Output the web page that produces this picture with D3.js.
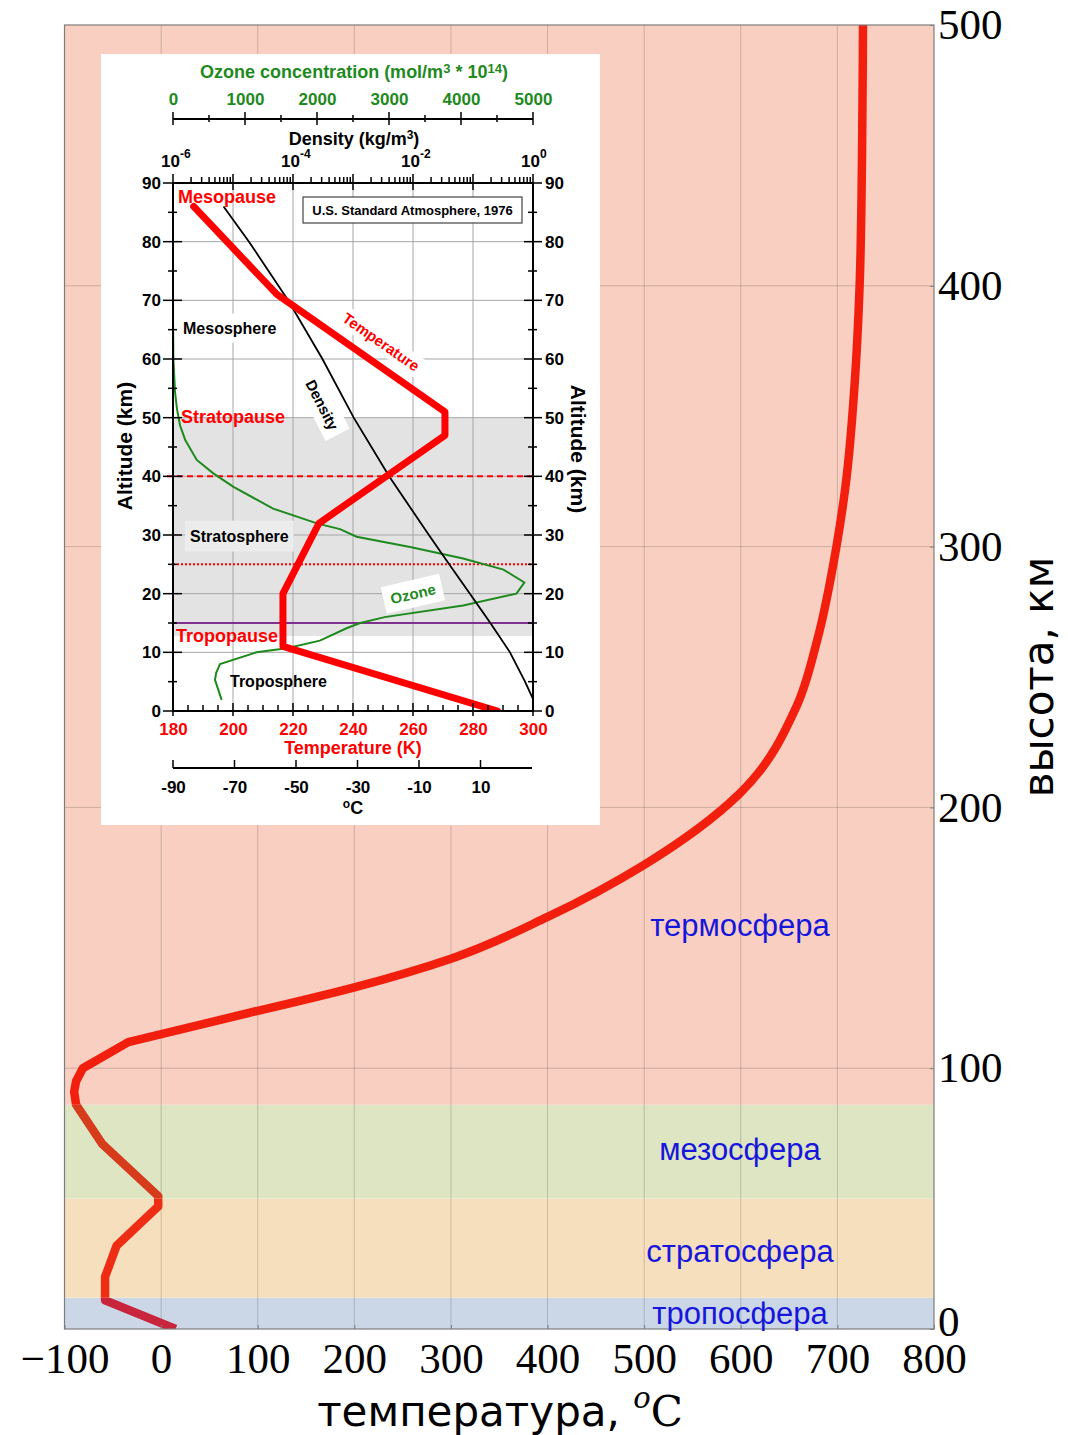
<!DOCTYPE html>
<html lang="ru">
<head>
<meta charset="utf-8">
<title>Температура атмосферы</title>
<script src="https://cdn.jsdelivr.net/npm/d3@7/dist/d3.min.js"></script>
<style>
  html, body { margin: 0; padding: 0; background: #fff; }
  svg { display: block; }
</style>
</head>
<body>
<svg id="chart" width="1068" height="1435"></svg>
<script>
// ---------- Main profile: temperature (°C) against altitude (km), 0–500 km ----------
const profileAlt  = [0, 11, 20, 32, 47, 51, 71, 86, 91, 95, 100, 110, 122, 131, 142, 158, 178, 205, 239, 264, 300, 322, 369, 400, 450, 500];
const profileTemp = [15, -58, -58, -46, -3, -3, -61, -88, -90, -88, -81, -34, 100, 200, 300, 400, 500, 598, 658, 679, 699, 708, 719, 723, 725.5, 726.5];

// Atmospheric layers (km)
const layerNames  = ["тропосфера", "стратосфера", "мезосфера", "термосфера"];
const layerBottom = [0, 12, 50, 86];
const layerTop    = [12, 50, 86, 500];

const tempTicks = [-100, 0, 100, 200, 300, 400, 500, 600, 700, 800];
const altTicks  = [0, 100, 200, 300, 400, 500];

// ---------- Inset: U.S. Standard Atmosphere, 1976 ----------
const stdAlt   = [0, 11, 20, 32, 47, 51, 71, 86];
const stdTempK = [288.15, 216.65, 216.65, 228.65, 270.65, 270.65, 214.65, 186.87];

const densityAlt = [0, 2, 5, 10, 15, 20, 25, 30, 40, 50, 60, 70, 80, 86];
const densityVal = [1.225, 1.007, 0.7364, 0.4135, 0.1948, 0.08891, 0.04008, 0.01841, 0.003996, 0.001027, 3.097e-4, 8.283e-5, 1.846e-5, 6.958e-6];

const ozoneAlt = [1.9, 5.3, 6.5, 8, 10, 10.7, 12, 14.1, 15, 16, 18, 20, 21.9, 24.1, 26, 27.9, 29.7, 31, 31.9, 34.5, 38.2, 40.5, 42.8, 46.2, 48.7, 51.5, 54.4, 60, 66, 74.3];
const ozoneVal = [676, 583, 600, 653, 1160, 1580, 2040, 2410, 2600, 2940, 4030, 4770, 4880, 4590, 4030, 3310, 2550, 2320, 2020, 1390, 840, 560, 330, 170, 97, 55, 28, 5, 1, 0];

const insetAltTicks   = [0, 10, 20, 30, 40, 50, 60, 70, 80, 90];
const kelvinTicks     = [180, 200, 220, 240, 260, 280, 300];
const celsiusTicks    = [-90, -70, -50, -30, -10, 10];
const ozoneTicks      = [0, 1000, 2000, 3000, 4000, 5000];
const densityDecades  = [-6, -4, -2, 0];

// ======================================================================
const svg = d3.select("#chart");
const defs = svg.append("defs");

// ---------------- main chart ----------------
const x = d3.scaleLinear().domain([-100, 800]).range([64.5, 934]);
const y = d3.scaleLinear().domain([0, 500]).range([1329, 25]);

const layerFill  = ["#cbd7e6", "#f6dfbc", "#dde5c3", "#f8cfc1"];
const layerLine  = ["#c8243c", "#ee2e14", "#d63c1c", "#f21f0e"];
const layerLabelAlt = [6, 30, 69, 155];
const smoothFrom = 122; // above this altitude the profile is drawn as a smooth curve

const layers = layerNames.map((name, i) => ({ name, lo: layerBottom[i], hi: layerTop[i], i }));
const main = svg.append("g");

main.selectAll("rect.layer").data(layers).join("rect")
  .attr("class", "layer")
  .attr("x", x(-100)).attr("width", x(800) - x(-100))
  .attr("y", d => y(d.hi)).attr("height", d => y(d.lo) - y(d.hi))
  .attr("fill", d => layerFill[d.i]);

// grid
main.append("g").selectAll("line").data(tempTicks.slice(1, -1)).join("line")
  .attr("x1", d => x(d)).attr("x2", d => x(d))
  .attr("y1", y(0)).attr("y2", y(500))
  .attr("stroke", "#000").attr("stroke-opacity", 0.17).attr("stroke-width", 1);
main.append("g").selectAll("line").data(altTicks.slice(1, -1)).join("line")
  .attr("y1", d => y(d)).attr("y2", d => y(d))
  .attr("x1", x(-100)).attr("x2", x(800))
  .attr("stroke", "#000").attr("stroke-opacity", 0.17).attr("stroke-width", 1);

// temperature curve, coloured by layer: broken line low down, smooth in the thermosphere
const profile = profileAlt.map((a, i) => ({ a, t: profileTemp[i] }));
const lowPart = profile.filter(d => d.a <= smoothFrom);
const highPart = profile.filter(d => d.a >= smoothFrom);
const lineLow = d3.line().x(d => x(d.t)).y(d => y(d.a));
const lineHigh = d3.line().x(d => x(d.t)).y(d => y(d.a)).curve(d3.curveMonotoneY);
const profilePath = lineLow(lowPart) + lineHigh(highPart).replace(/^M/, "L");

layers.forEach(d => {
  const top = d.i === 3 ? y(500) : y(d.hi);
  const bottom = y(d.lo);
  defs.append("clipPath").attr("id", "layer-clip-" + d.i)
    .append("rect").attr("x", 0).attr("width", 1068).attr("y", top).attr("height", bottom - top);
  main.append("path")
    .attr("d", profilePath)
    .attr("fill", "none")
    .attr("stroke", layerLine[d.i])
    .attr("stroke-width", 8.5)
    .attr("stroke-linejoin", "round")
    .attr("clip-path", `url(#layer-clip-${d.i})`);
});

// frame
main.append("rect")
  .attr("x", x(-100)).attr("y", y(500))
  .attr("width", x(800) - x(-100)).attr("height", y(0) - y(500))
  .attr("fill", "none").attr("stroke", "#7d7d7d").attr("stroke-width", 1.2);

// layer names
main.selectAll("text.layer-name").data(layers).join("text")
  .attr("class", "layer-name")
  .attr("x", 740).attr("y", d => y(layerLabelAlt[d.i]))
  .attr("dy", "0.35em")
  .attr("text-anchor", "middle")
  .attr("font-family", "'Liberation Sans', Arial, sans-serif")
  .attr("font-size", 31)
  .attr("fill", "#1616dc")
  .text(d => d.name);

// axes
const axisFont = "'Liberation Serif', 'Times New Roman', serif";
const xAxis = d3.axisBottom(x).tickValues(tempTicks)
  .tickFormat(d => d < 0 ? "\u2212" + Math.abs(d) : String(d))
  .tickSizeInner(-4).tickSizeOuter(0).tickPadding(13);
const gx = main.append("g").attr("transform", `translate(0,${y(0)})`).call(xAxis);
gx.select(".domain").remove();
gx.selectAll(".tick line").attr("stroke", "#7d7d7d");
gx.selectAll(".tick text").attr("font-family", axisFont).attr("font-size", 43).attr("fill", "#000");

const yAxis = d3.axisRight(y).tickValues(altTicks)
  .tickSizeInner(-4).tickSizeOuter(0).tickPadding(4);
const gy = main.append("g").attr("transform", `translate(${x(800)},0)`).call(yAxis);
gy.select(".domain").remove();
gy.selectAll(".tick line").attr("stroke", "#7d7d7d");
gy.selectAll(".tick text").attr("font-family", axisFont).attr("font-size", 43).attr("fill", "#000");
// the lowest altitude label sits just above the corner label of the temperature axis
gy.selectAll(".tick").filter(d => d === 0).select("text").attr("dy", "0.15em");

// axis titles
const xTitle = main.append("text")
  .attr("x", 500).attr("y", 1426).attr("text-anchor", "middle")
  .attr("font-family", "'DejaVu Sans', sans-serif").attr("font-size", 42).attr("fill", "#000");
xTitle.append("tspan").text("температура, ");
xTitle.append("tspan").attr("font-family", "'DejaVu Serif', serif").attr("font-style", "italic")
  .attr("font-size", 29).attr("dy", -18).text("o");
xTitle.append("tspan").attr("font-family", "'DejaVu Serif', serif")
  .attr("font-size", 42).attr("dy", 18).text("C");

main.append("text")
  .attr("transform", "translate(1053,677) rotate(-90)")
  .attr("text-anchor", "middle")
  .attr("font-family", "'DejaVu Sans', sans-serif").attr("font-size", 42).attr("fill", "#000")
  .text("высота, км");

// ---------------- inset ----------------
const inset = svg.append("g").attr("class", "inset");
inset.append("rect").attr("x", 101).attr("y", 54).attr("width", 499).attr("height", 771).attr("fill", "#fff");

const kx = d3.scaleLinear().domain([180, 300]).range([173, 533]);
const ay = d3.scaleLinear().domain([0, 90]).range([711, 183]);
const dx = d3.scaleLog().domain([1e-6, 1]).range([173, 533]);
const ox = d3.scaleLinear().domain([0, 5000]).range([173, 533]);
const cx = d3.scaleLinear().domain([-90, 10]).range([173, 480.5]);

const boldFont = "'Liberation Sans', Arial, sans-serif";
const green = "#1e8a1e";
const red = "#ff0000";

defs.append("clipPath").attr("id", "inset-plot")
  .append("rect").attr("x", kx(180)).attr("y", ay(90)).attr("width", kx(300) - kx(180)).attr("height", ay(0) - ay(90));

// stratosphere shading
inset.append("rect")
  .attr("x", kx(180)).attr("width", kx(300) - kx(180))
  .attr("y", ay(50)).attr("height", ay(12.8) - ay(50))
  .attr("fill", "#e3e3e3");

// grid
inset.append("g").selectAll("line").data(kelvinTicks.slice(1, -1)).join("line")
  .attr("x1", d => kx(d)).attr("x2", d => kx(d)).attr("y1", ay(0)).attr("y2", ay(90))
  .attr("stroke", "#a6a6a6").attr("stroke-width", 1);
inset.append("g").selectAll("line").data(insetAltTicks.slice(1, -1)).join("line")
  .attr("y1", d => ay(d)).attr("y2", d => ay(d)).attr("x1", kx(180)).attr("x2", kx(300))
  .attr("stroke", "#a6a6a6").attr("stroke-width", 1);

// reference levels
inset.append("line").attr("x1", kx(180) - 6).attr("x2", kx(300)).attr("y1", ay(40)).attr("y2", ay(40))
  .attr("stroke", red).attr("stroke-width", 2).attr("stroke-dasharray", "6,4");
inset.append("line").attr("x1", kx(180)).attr("x2", kx(300)).attr("y1", ay(25)).attr("y2", ay(25))
  .attr("stroke", red).attr("stroke-width", 2).attr("stroke-dasharray", "2,2");
inset.append("line").attr("x1", kx(180)).attr("x2", kx(300)).attr("y1", ay(15)).attr("y2", ay(15))
  .attr("stroke", "#80308f").attr("stroke-width", 2);

// label with an optional background box
function boxedLabel(g, opt) {
  const grp = g.append("g").attr("transform", `translate(${opt.x},${opt.y}) rotate(${opt.angle || 0})`);
  const t = grp.append("text")
    .attr("text-anchor", opt.anchor || "start")
    .attr("dy", "0.35em")
    .attr("font-family", boldFont).attr("font-weight", "bold")
    .attr("font-size", opt.size).attr("fill", opt.fill)
    .text(opt.text);
  if (opt.bg) {
    const b = t.node().getBBox();
    const px = opt.padX == null ? 4 : opt.padX, py = opt.padY == null ? 3 : opt.padY;
    grp.insert("rect", "text")
      .attr("x", b.x - px).attr("y", b.y - py)
      .attr("width", b.width + 2 * px).attr("height", b.height + 2 * py)
      .attr("fill", opt.bg);
  }
  return grp;
}

boxedLabel(inset, { text: "Mesosphere", x: 183, y: 328, size: 16, fill: "#000", bg: "#fff", padX: 4, padY: 6 });
boxedLabel(inset, { text: "Stratosphere", x: 190, y: 536, size: 16, fill: "#000", bg: "#ececec", padX: 5, padY: 7 });
boxedLabel(inset, { text: "Troposphere", x: 230, y: 681, size: 16, fill: "#000" });

// curves
const ozone = ozoneAlt.map((a, i) => ({ a, v: ozoneVal[i] }));
inset.append("path").datum(ozone)
  .attr("d", d3.line().x(d => ox(d.v)).y(d => ay(d.a)))
  .attr("fill", "none").attr("stroke", green).attr("stroke-width", 2);

const density = densityAlt.map((a, i) => ({ a, v: densityVal[i] }));
inset.append("path").datum(density)
  .attr("d", d3.line().x(d => dx(d.v)).y(d => ay(d.a)))
  .attr("fill", "none").attr("stroke", "#000").attr("stroke-width", 1.8)
  .attr("clip-path", "url(#inset-plot)");

const std = stdAlt.map((a, i) => ({ a, k: stdTempK[i] }));
inset.append("path").datum(std)
  .attr("d", d3.line().x(d => kx(d.k)).y(d => ay(d.a)))
  .attr("fill", "none").attr("stroke", red).attr("stroke-width", 7)
  .attr("stroke-linejoin", "round").attr("stroke-linecap", "round")
  .attr("clip-path", "url(#inset-plot)");

// curve labels
boxedLabel(inset, { text: "Temperature", x: 381, y: 342, angle: 35, anchor: "middle", size: 15, fill: red, bg: "#fff", padX: 3, padY: 2 });
boxedLabel(inset, { text: "Density", x: 322, y: 405, angle: 63, anchor: "middle", size: 15, fill: "#000", bg: "#fff", padX: 6, padY: 5 });
boxedLabel(inset, { text: "Ozone", x: 413, y: 594, angle: -13, anchor: "middle", size: 15, fill: green, bg: "#fff", padX: 7, padY: 5 });

boxedLabel(inset, { text: "Mesopause", x: 178, y: 197, size: 18, fill: red });
boxedLabel(inset, { text: "Stratopause", x: 181, y: 417, size: 18, fill: red });
boxedLabel(inset, { text: "Tropopause", x: 176, y: 636, size: 18, fill: red });

// legend box
inset.append("rect").attr("x", 303).attr("y", 197).attr("width", 219).attr("height", 26)
  .attr("fill", "#fff").attr("stroke", "#444").attr("stroke-width", 1.2);
inset.append("text").attr("x", 412.5).attr("y", 215).attr("text-anchor", "middle")
  .attr("font-family", boldFont).attr("font-weight", "bold").attr("font-size", 13).attr("fill", "#000")
  .text("U.S. Standard Atmosphere, 1976");

// plot frame
inset.append("rect")
  .attr("x", kx(180)).attr("y", ay(90)).attr("width", kx(300) - kx(180)).attr("height", ay(0) - ay(90))
  .attr("fill", "none").attr("stroke", "#000").attr("stroke-width", 2);

// tick helper: draws short segments across an axis
function ticks(g, values, pos, from, to, vertical) {
  g.append("g").selectAll("line").data(values).join("line")
    .attr(vertical ? "y1" : "x1", d => pos(d)).attr(vertical ? "y2" : "x2", d => pos(d))
    .attr(vertical ? "x1" : "y1", from).attr(vertical ? "x2" : "y2", to)
    .attr("stroke", "#000").attr("stroke-width", 1.5);
}
const minorAlt = d3.range(5, 90, 10);

// left / right altitude axes
const la = inset.append("g").attr("transform", `translate(${kx(180)},0)`)
  .call(d3.axisLeft(ay).tickValues(insetAltTicks).tickSize(0).tickPadding(12));
la.select(".domain").remove();
la.selectAll("text").attr("font-family", boldFont).attr("font-weight", "bold").attr("font-size", 17).attr("fill", "#000");
const ra = inset.append("g").attr("transform", `translate(${kx(300)},0)`)
  .call(d3.axisRight(ay).tickValues(insetAltTicks).tickSize(0).tickPadding(12));
ra.select(".domain").remove();
ra.selectAll("text").attr("font-family", boldFont).attr("font-weight", "bold").attr("font-size", 17).attr("fill", "#000");
ticks(inset, insetAltTicks, ay, 163, 182, true);
ticks(inset, minorAlt, ay, 168, 177, true);
ticks(inset, insetAltTicks, ay, 524, 542, true);
ticks(inset, minorAlt, ay, 528, 537, true);

inset.append("text").attr("transform", "translate(132,446) rotate(-90)").attr("text-anchor", "middle")
  .attr("font-family", boldFont).attr("font-weight", "bold").attr("font-size", 21).text("Altitude (km)");
inset.append("text").attr("transform", "translate(571,449) rotate(90)").attr("text-anchor", "middle")
  .attr("font-family", boldFont).attr("font-weight", "bold").attr("font-size", 21).text("Altitude (km)");

// bottom kelvin axis
const kb = inset.append("g").attr("transform", `translate(0,${ay(0)})`)
  .call(d3.axisBottom(kx).tickValues(kelvinTicks).tickSize(0).tickPadding(12));
kb.select(".domain").remove();
kb.selectAll("text").attr("font-family", boldFont).attr("font-weight", "bold").attr("font-size", 17).attr("fill", red);
ticks(inset, kelvinTicks, kx, 703, 716, false);
ticks(inset, d3.range(185, 300, 5).filter(v => v % 20 !== 0), kx, 705, 711, false);
inset.append("text").attr("x", 353).attr("y", 754).attr("text-anchor", "middle")
  .attr("font-family", boldFont).attr("font-weight", "bold").attr("font-size", 18).attr("fill", red)
  .text("Temperature (K)");

// celsius axis
inset.append("line").attr("x1", 173).attr("x2", 532).attr("y1", 768).attr("y2", 768)
  .attr("stroke", "#000").attr("stroke-width", 2);
const cb = inset.append("g").attr("transform", "translate(0,768)")
  .call(d3.axisBottom(cx).tickValues(celsiusTicks).tickFormat(d => String(d)).tickSize(0).tickPadding(13));
cb.select(".domain").remove();
cb.selectAll("text").attr("font-family", boldFont).attr("font-weight", "bold").attr("font-size", 17).attr("fill", "#000");
ticks(inset, celsiusTicks, cx, 760, 768, false);
const degC = inset.append("text").attr("x", 353).attr("y", 814).attr("text-anchor", "middle")
  .attr("font-family", boldFont).attr("font-weight", "bold").attr("font-size", 18).attr("fill", "#000");
degC.append("tspan").attr("font-size", 12).attr("dy", -6).text("o");
degC.append("tspan").attr("dy", 6).text("C");

// top density axis (log)
const isDecade = v => Math.abs(Math.log10(v) - Math.round(Math.log10(v))) < 1e-9;
ticks(inset, dx.ticks().filter(isDecade), dx, 174, 190, false);
ticks(inset, dx.ticks().filter(v => !isDecade(v)), dx, 177, 183, false);
densityDecades.forEach(e => {
  const t = inset.append("text").attr("x", dx(Math.pow(10, e)) - 12).attr("y", 167)
    .attr("font-family", boldFont).attr("font-weight", "bold").attr("font-size", 17).attr("fill", "#000");
  t.append("tspan").text("10");
  t.append("tspan").attr("font-size", 12).attr("dy", -9).text(e === 0 ? "0" : "-" + Math.abs(e));
});
const dTitle = inset.append("text").attr("x", 354).attr("y", 145).attr("text-anchor", "middle")
  .attr("font-family", boldFont).attr("font-weight", "bold").attr("font-size", 18).attr("fill", "#000");
dTitle.append("tspan").text("Density (kg/m");
dTitle.append("tspan").attr("font-size", 12).attr("dy", -6).text("3");
dTitle.append("tspan").attr("dy", 6).text(")");

// ozone axis
inset.append("line").attr("x1", ox(0)).attr("x2", ox(5000)).attr("y1", 119).attr("y2", 119)
  .attr("stroke", "#000").attr("stroke-width", 2);
ticks(inset, ozoneTicks, ox, 112, 125, false);
ticks(inset, d3.range(500, 5000, 1000), ox, 115, 122, false);
const oa = inset.append("g").attr("transform", "translate(0,119)")
  .call(d3.axisTop(ox).tickValues(ozoneTicks).tickFormat(d => String(d)).tickSize(0).tickPadding(14));
oa.select(".domain").remove();
oa.selectAll("text").attr("font-family", boldFont).attr("font-weight", "bold").attr("font-size", 17).attr("fill", green);
const oTitle = inset.append("text").attr("x", 354).attr("y", 78).attr("text-anchor", "middle")
  .attr("font-family", boldFont).attr("font-weight", "bold").attr("font-size", 18).attr("fill", green);
oTitle.append("tspan").text("Ozone concentration (mol/m");
oTitle.append("tspan").attr("font-size", 13).attr("dy", -5).text("3");
oTitle.append("tspan").attr("dy", 5).text(" * 10");
oTitle.append("tspan").attr("font-size", 13).attr("dy", -5).text("14");
oTitle.append("tspan").attr("dy", 5).text(")");
</script>
</body>
</html>
